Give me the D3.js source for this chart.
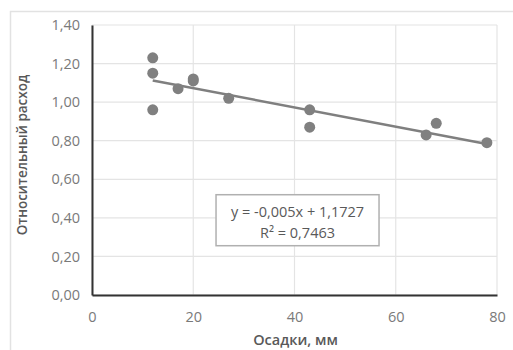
<!DOCTYPE html>
<html>
<head>
<meta charset="utf-8">
<script src="https://cdn.jsdelivr.net/npm/d3@7"></script>
<style>
  body { margin: 0; background: #fff; }
  svg text { font-family: "Open Sans", "Noto Sans", sans-serif; }
</style>
</head>
<body>
<div id="chart"></div>
<script>
// precipitation (mm) and relative flow
const osadki = [12, 12, 12, 17, 20, 20, 27, 43, 43, 66, 68, 78];
const rashod = [1.23, 1.15, 0.96, 1.07, 1.12, 1.11, 1.02, 0.96, 0.87, 0.83, 0.89, 0.79];
const xTicks = [0, 20, 40, 60, 80];
const yTicks = [0, 0.2, 0.4, 0.6, 0.8, 1.0, 1.2, 1.4];
const slope = -0.005, intercept = 1.1727;
const eqLines = ["y = -0,005x + 1,1727", "R² = 0,7463"];

const width = 513, height = 350;
const margin = { top: 25, right: 16, bottom: 55, left: 92 };

const svg = d3.select("#chart")
    .append("svg")
    .attr("width", width)
    .attr("height", height);

// outer chart frame
svg.append("rect")
    .attr("x", 10.5).attr("y", 11.5)
    .attr("width", 540).attr("height", 360)
    .attr("fill", "none")
    .attr("stroke", "#e2e2e2")
    .attr("stroke-width", 1.5);

const w = width - margin.left - margin.right,
    h = height - margin.top - margin.bottom;

const g = svg.append("g")
    .attr("transform", `translate(${margin.left},${margin.top})`);

const x = d3.scaleLinear().domain([0, 80]).range([0, w]);
const y = d3.scaleLinear().domain([0, 1.4]).range([h, 0]);

const fmtY = d => d3.format(".2f")(d).replace(".", ",");

// gridlines
g.append("g")
    .selectAll("line")
    .data(yTicks)
    .enter().append("line")
    .attr("x1", 0).attr("x2", w)
    .attr("y1", d => y(d)).attr("y2", d => y(d))
    .attr("stroke", "#e4e4e4").attr("stroke-width", 1.2);

g.append("g")
    .selectAll("line")
    .data(xTicks)
    .enter().append("line")
    .attr("x1", d => x(d)).attr("x2", d => x(d))
    .attr("y1", 0).attr("y2", h)
    .attr("stroke", "#e4e4e4").attr("stroke-width", 1.2);

// axes
const yAxis = g.append("g")
    .call(d3.axisLeft(y).tickValues(yTicks).tickSize(0).tickPadding(12).tickFormat(fmtY));
yAxis.select(".domain").attr("stroke", "#333").attr("stroke-width", 2);
yAxis.selectAll("text").attr("fill", "#7a7a7a").style("font-size", "14.5px");

const xAxis = g.append("g")
    .attr("transform", `translate(0,${h})`)
    .call(d3.axisBottom(x).tickValues(xTicks).tickSize(0).tickPadding(17).tickFormat(d3.format("d")));
xAxis.select(".domain").attr("stroke", "#333").attr("stroke-width", 2);
xAxis.selectAll("text").attr("fill", "#7a7a7a").style("font-size", "14.5px");

// trend line
g.append("line")
    .attr("x1", x(12)).attr("y1", y(slope * 12 + intercept))
    .attr("x2", x(78)).attr("y2", y(slope * 78 + intercept))
    .attr("stroke", "#7f7f7f")
    .attr("stroke-width", 2.5);

// points
g.selectAll(".dot")
    .data(osadki)
    .enter().append("circle")
    .attr("class", "dot")
    .attr("cx", d => x(d))
    .attr("cy", (d, i) => y(rashod[i]))
    .attr("r", 5.5)
    .attr("fill", "#808080");

// equation label
const box = g.append("g").attr("transform", `translate(${x(24.5)},${y(0.52)})`);
box.append("rect")
    .attr("width", 163).attr("height", 51)
    .attr("fill", "#fff")
    .attr("stroke", "#b0b0b0")
    .attr("stroke-width", 1.5);
box.selectAll("text")
    .data(eqLines)
    .enter().append("text")
    .attr("x", 81.5)
    .attr("y", (d, i) => 22 + i * 21)
    .attr("text-anchor", "middle")
    .attr("fill", "#595959")
    .style("font-size", "14.5px")
    .text(d => d);

// axis titles
svg.append("text")
    .attr("transform", `translate(27,${margin.top + h / 2 - 5}) rotate(-90)`)
    .attr("text-anchor", "middle")
    .attr("fill", "#595959")
    .style("font-size", "13.5px")
    .style("font-weight", "600")
    .text("Относительный расход");

svg.append("text")
    .attr("x", margin.left + w / 2 + 1)
    .attr("y", 345)
    .attr("text-anchor", "middle")
    .attr("fill", "#595959")
    .style("font-size", "14.5px")
    .style("font-weight", "600")
    .text("Осадки, мм");
</script>
</body>
</html>
